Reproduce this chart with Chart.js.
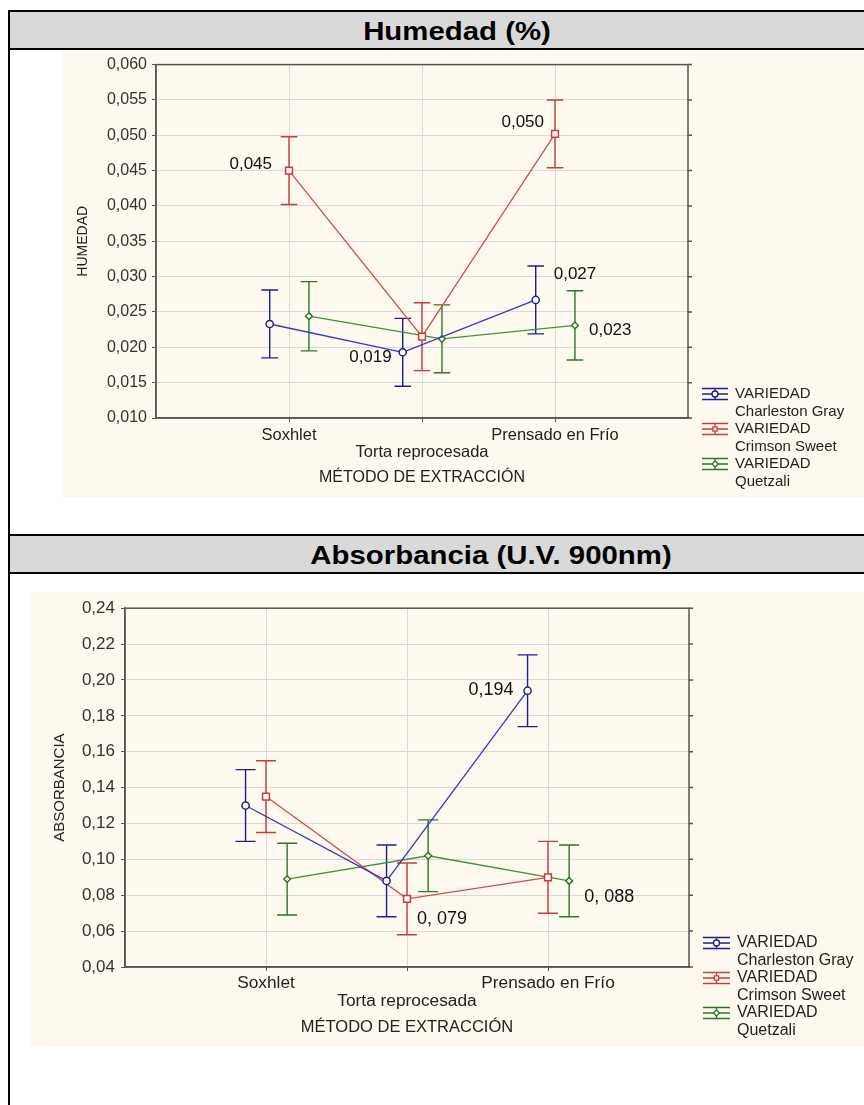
<!DOCTYPE html>
<html>
<head>
<meta charset="utf-8">
<title>Humedad y Absorbancia por método de extracción</title>
<script src="https://cdn.jsdelivr.net/npm/chart.js@4.4.0/dist/chart.umd.min.js"></script>
<style>
  body { margin: 0; background: #fff; font-family: "Liberation Sans", Arial, sans-serif; }
  .page { position: relative; width: 864px; height: 1105px; overflow: hidden; }
  .line { position: absolute; background: #000; }
  .head { position: absolute; left: 10px; width: 854px; height: 36px; background: #d9d9d9; }
  .head span { position: absolute; top: 1px; width: 400px; text-align: center; font-weight: bold; font-size: 26px; line-height: 36px; color: #000; transform: scaleX(1.13); }
  .panel { position: absolute; background: #fdf9ef; }
  canvas { display: block; }
</style>
</head>
<body>
<div class="page">
  <div class="line" style="left:8px; top:10px; width:856px; height:2px"></div>
  <div class="line" style="left:8px; top:10px; width:2px; height:1095px"></div>
  <div class="head" style="top:12px"><span style="left:247px">Humedad (%)</span></div>
  <div class="line" style="left:8px; top:48px; width:856px; height:2px"></div>
  <div class="panel" style="left:63px; top:50px; width:801px; height:447px"><canvas id="humedad" width="801" height="447"></canvas></div>
  <div class="line" style="left:8px; top:534px; width:856px; height:2px"></div>
  <div class="head" style="top:536px"><span style="left:281px">Absorbancia (U.V. 900nm)</span></div>
  <div class="line" style="left:8px; top:572px; width:856px; height:2px"></div>
  <div class="panel" style="left:30px; top:592px; width:834px; height:455px"><canvas id="absorbancia" width="834" height="455"></canvas></div>
</div>
<script>
const methods = ['Soxhlet', 'Torta reprocesada', 'Prensado en Frío'];
const varieties = ['Charleston Gray', 'Crimson Sweet', 'Quetzali'];

// Humedad: medias y semiancho del intervalo
const humedadCharleston = [0.0233, 0.0193, 0.0267];
const humedadCrimson = [0.0450, 0.0215, 0.0502];
const humedadQuetzali = [0.0244, 0.0212, 0.0231];
const humedadErrCharleston = [0.0048, 0.0048, 0.0048];
const humedadErrCrimson = [0.0048, 0.0048, 0.0048];
const humedadErrQuetzali = [0.0049, 0.0048, 0.0049];
const humedadTicks = [0.010, 0.015, 0.020, 0.025, 0.030, 0.035, 0.040, 0.045, 0.050, 0.055, 0.060];
const humedadNotes = ['0,045', '0,050', '0,027', '0,023', '0,019'];

// Absorbancia
const absCharleston = [0.130, 0.088, 0.194];
const absCrimson = [0.135, 0.078, 0.090];
const absQuetzali = [0.089, 0.102, 0.088];
const absErrCharleston = [0.020, 0.020, 0.020];
const absErrCrimson = [0.020, 0.020, 0.020];
const absErrQuetzali = [0.020, 0.020, 0.020];
const absTicks = [0.04, 0.06, 0.08, 0.10, 0.12, 0.14, 0.16, 0.18, 0.20, 0.22, 0.24];
const absNotes = ['0,194', '0, 079', '0, 088'];

const lineColors = ['#3636c4', '#d84a4a', '#3c943c'];
const barColors = ['#20208c', '#c83c3c', '#2a782a'];
const markerStyles = ['circle', 'rect', 'rectRot'];
const markerSizes = [3.6, 4.8, 3.4];
const shift = [-0.145, 0, 0.15];

Chart.defaults.font.family = '"Liberation Sans", Arial, sans-serif';

function drawMarker(ctx, style, x, y, r) {
    ctx.beginPath();
    if (style === 'circle') {
        ctx.arc(x, y, r, 0, Math.PI * 2);
    } else if (style === 'rect') {
        const s = r * Math.SQRT1_2;
        ctx.rect(x - s, y - s, 2 * s, 2 * s);
    } else {
        ctx.moveTo(x, y - r); ctx.lineTo(x + r, y); ctx.lineTo(x, y + r); ctx.lineTo(x - r, y);
        ctx.closePath();
    }
    ctx.fillStyle = '#fff';
    ctx.fill();
    ctx.stroke();
}

function overlay(o) {
    return {
        id: 'overlay',
        beforeDatasetsDraw(chart) {
            const { ctx, chartArea: a, scales: { y } } = chart;
            ctx.save();
            ctx.strokeStyle = '#555';
            ctx.lineWidth = 1.5;
            ctx.strokeRect(a.left, a.top, a.right - a.left, a.bottom - a.top);
            ctx.beginPath();
            y.ticks.forEach(t => {
                const py = y.getPixelForValue(t.value);
                ctx.moveTo(a.right, py); ctx.lineTo(a.right + 4, py);
            });
            ctx.stroke();
            // error bars
            chart.data.datasets.forEach((ds, d) => {
                ctx.strokeStyle = ds.errorColor;
                ctx.lineWidth = 1.4;
                ctx.beginPath();
                chart.getDatasetMeta(d).data.forEach((pt, i) => {
                    const hi = y.getPixelForValue(ds.data[i].y + ds.errors[i]);
                    const lo = y.getPixelForValue(ds.data[i].y - ds.errors[i]);
                    ctx.moveTo(pt.x, hi); ctx.lineTo(pt.x, lo);
                    ctx.moveTo(pt.x - o.cap, hi); ctx.lineTo(pt.x + o.cap, hi);
                    ctx.moveTo(pt.x - o.cap, lo); ctx.lineTo(pt.x + o.cap, lo);
                });
                ctx.stroke();
            });
            ctx.restore();
        },
        afterDatasetsDraw(chart) {
            const { ctx, chartArea: a } = chart;
            ctx.save();
            // value notes
            ctx.fillStyle = '#111';
            ctx.font = o.noteFont + 'px "Liberation Sans", Arial, sans-serif';
            ctx.textBaseline = 'middle';
            o.notePlace.forEach((p, k) => {
                const pt = chart.getDatasetMeta(p.ds).data[p.i];
                ctx.textAlign = p.align;
                ctx.fillText(o.notes[k], pt.x + p.dx, pt.y + p.dy);
            });
            // legend
            ctx.font = o.legendFont + 'px "Liberation Sans", Arial, sans-serif';
            ctx.textAlign = 'left';
            const x0 = a.right + 14;
            chart.data.datasets.forEach((ds, d) => {
                const yy = a.bottom - 24 + d * 35;
                ctx.strokeStyle = ds.errorColor;
                ctx.lineWidth = 1.3;
                ctx.beginPath();
                [-5.5, 0, 5.5].forEach(off => { ctx.moveTo(x0, yy + off); ctx.lineTo(x0 + o.symW, yy + off); });
                ctx.moveTo(x0 + o.symW / 2, yy - 5.5); ctx.lineTo(x0 + o.symW / 2, yy + 5.5);
                ctx.stroke();
                drawMarker(ctx, markerStyles[d], x0 + o.symW / 2, yy, 3);
                ctx.fillStyle = '#222';
                ctx.fillText('VARIEDAD', x0 + o.textDx, yy);
                ctx.fillText(ds.label, x0 + o.textDx, yy + 17.5);
            });
            ctx.restore();
        }
    };
}

function makeChart(id, o) {
    const datasets = o.series.map((vals, s) => ({
        label: varieties[s],
        data: vals.map((v, i) => ({ x: i + 1 + shift[s], y: v })),
        errors: o.errors[s],
        errorColor: barColors[s],
        borderColor: lineColors[s],
        borderWidth: 1.3,
        pointStyle: markerStyles[s],
        pointRadius: markerSizes[s],
        pointBorderWidth: 1.5,
        pointBorderColor: barColors[s],
        pointBackgroundColor: '#fff',
        tension: 0
    }));
    return new Chart(document.getElementById(id), {
        type: 'line',
        data: { datasets },
        options: {
            responsive: false,
            animation: false,
            layout: { padding: o.padding },
            plugins: { legend: { display: false }, tooltip: { enabled: false } },
            scales: {
                x: {
                    type: 'linear', min: 0, max: 4,
                    afterBuildTicks: ax => { ax.ticks = [1, 2, 3].map(v => ({ value: v })); },
                    afterFit: ax => { ax.height = o.xHeight; },
                    ticks: {
                        autoSkip: false, maxRotation: 0, minRotation: 0,
                        padding: o.xPad, color: '#222',
                        font: { size: o.xFont, lineHeight: o.xLine },
                        callback: (v, i) => i === 1 ? ['', methods[i]] : methods[i]
                    },
                    grid: { color: '#dadada', tickColor: '#555', tickLength: 4 },
                    border: { color: '#555', width: 1.5 },
                    title: { display: true, text: 'MÉTODO DE EXTRACCIÓN', color: '#222', font: { size: o.titleFont }, padding: { top: 0, bottom: 9.4 } }
                },
                y: {
                    min: o.ticks[0], max: o.ticks[o.ticks.length - 1],
                    afterBuildTicks: ax => { ax.ticks = o.ticks.map(v => ({ value: v })); },
                    afterFit: ax => { ax.width = o.yWidth; },
                    ticks: {
                        padding: o.yPad, color: '#333', font: { size: o.yFont },
                        callback: v => v.toFixed(o.decimals).replace('.', ',')
                    },
                    grid: { color: '#dadada', tickColor: '#555', tickLength: 4 },
                    border: { color: '#555', width: 1.5 },
                    title: { display: true, text: o.yTitle, color: '#222', font: { size: o.yTitleFont }, padding: { top: o.yTitlePad, bottom: 0 } }
                }
            }
        },
        plugins: [overlay(o)]
    });
}

makeChart('humedad', {
    series: [humedadCharleston, humedadCrimson, humedadQuetzali],
    errors: [humedadErrCharleston, humedadErrCrimson, humedadErrQuetzali],
    ticks: humedadTicks, decimals: 3,
    padding: { left: 0, right: 176, top: 10, bottom: 0 },
    yWidth: 93, xHeight: 79,
    yFont: 16, yPad: 5, xFont: 16.5, xLine: 1.05, xPad: 4.3, titleFont: 16,
    yTitle: 'HUMEDAD', yTitleFont: 14, yTitlePad: 11.6,
    cap: 8.3, noteFont: 17, legendFont: 15, symW: 26, textDx: 33,
    notes: humedadNotes,
    notePlace: [
        { ds: 1, i: 0, align: 'right', dx: -17, dy: -6 },
        { ds: 1, i: 2, align: 'right', dx: -11, dy: -12 },
        { ds: 0, i: 2, align: 'left', dx: 18, dy: -26 },
        { ds: 2, i: 2, align: 'left', dx: 14, dy: 5 },
        { ds: 0, i: 1, align: 'right', dx: -11, dy: 5 }
    ]
});

makeChart('absorbancia', {
    series: [absCharleston, absCrimson, absQuetzali],
    errors: [absErrCharleston, absErrCrimson, absErrQuetzali],
    ticks: absTicks, decimals: 2,
    padding: { left: 0, right: 175, top: 16, bottom: 0 },
    yWidth: 95, xHeight: 80,
    yFont: 17, yPad: 6, xFont: 17.3, xLine: 1.02, xPad: 3.5, titleFont: 16.5,
    yTitle: 'ABSORBANCIA', yTitleFont: 15, yTitlePad: 21,
    cap: 10, noteFont: 18, legendFont: 16, symW: 27, textDx: 34,
    notes: absNotes,
    notePlace: [
        { ds: 0, i: 2, align: 'right', dx: -14, dy: -1 },
        { ds: 1, i: 1, align: 'left', dx: 10, dy: 20 },
        { ds: 2, i: 2, align: 'left', dx: 15, dy: 16 }
    ]
});
</script>
</body>
</html>
